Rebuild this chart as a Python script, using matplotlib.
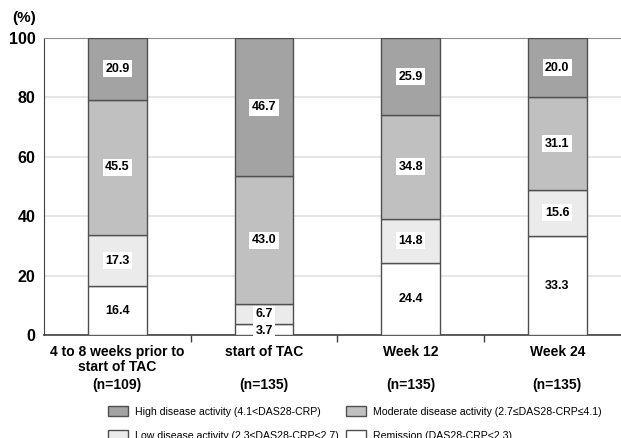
import numpy as np
import matplotlib.pyplot as plt
from matplotlib.patches import Patch

plt.rcParams['font.family'] = ['Liberation Sans', 'DejaVu Sans']

# ------------------------------- DATA ---------------------------------------
categories = ["4 to 8 weeks prior to\nstart of TAC", "start of TAC", "Week 12", "Week 24"]
n_labels = ["(n=109)", "(n=135)", "(n=135)", "(n=135)"]
remission = [16.4, 3.7, 24.4, 33.3]
low = [17.3, 6.7, 14.8, 15.6]
moderate = [45.5, 43.0, 34.8, 31.1]
high = [20.9, 46.7, 25.9, 20.0]

legend_labels = [
    "High disease activity (4.1<DAS28-CRP)",
    "Moderate disease activity (2.7\u2264DAS28-CRP\u22644.1)",
    "Low disease activity (2.3\u2264DAS28-CRP<2.7)",
    "Remission (DAS28-CRP<2.3)",
]
yticks = [0, 20, 40, 60, 80, 100]

# ------------------------------- STYLE --------------------------------------
colors = ["#ffffff", "#ebebeb", "#c0c0c0", "#a3a3a3"]  # remission, low, moderate, high
edge = "#505050"
bar_w = 0.4

fig = plt.figure(figsize=(6.21, 4.38), dpi=100)
ax = fig.add_axes([0.0709, 0.2352, 0.935, 0.678])

x = np.arange(len(categories))
series = [remission, low, moderate, high]
bottom = np.zeros(len(categories))
for vals, col in zip(series, colors):
    vals = np.array(vals)
    ax.bar(x, vals, bar_w, bottom=bottom, color=col, edgecolor=edge,
           linewidth=1.0, zorder=3)
    for xi, b, v in zip(x, bottom, vals):
        yc = b + v / 2
        if v < 5:
            yc = b + v / 2 - 0.6
        ax.text(xi, yc, f"{v:.1f}", ha="center", va="center", fontsize=9,
                fontweight="bold", zorder=5,
                bbox=dict(boxstyle="square,pad=0.2", fc="white", ec="none"))
    bottom = bottom + vals

ax.set_xlim(-0.5, 3.46)
ax.set_ylim(0, 100)
ax.set_yticks(yticks)
ax.set_yticklabels([str(t) for t in yticks], fontsize=11.5, fontweight="bold")
ax.tick_params(axis="y", length=0, pad=6)

ax.set_xticks(x)
ax.set_xticklabels(categories, fontsize=10, fontweight="bold", linespacing=1.15)
ax.set_xticks([0.5, 1.5, 2.5], minor=True)
ax.tick_params(axis="x", which="major", length=0, pad=7)
ax.tick_params(axis="x", which="minor", length=5, width=1.0, color="#404040")

for xi, nl in zip(x, n_labels):
    ax.text(xi, -0.168, nl, transform=ax.get_xaxis_transform(), ha="center",
            va="center", fontsize=10, fontweight="bold")

ax.grid(axis="y", color="#e2e2e2", linewidth=1.2, zorder=0)
ax.spines["right"].set_visible(False)
ax.spines["top"].set_color("#909090")
ax.spines["left"].set_color("#404040")
ax.spines["bottom"].set_color("#404040")
ax.spines["bottom"].set_linewidth(1.2)

fig.text(0.019, 0.958, "(%)", fontsize=11, fontweight="bold", ha="left", va="center")

# legend, column-first order
handles = [Patch(facecolor=c, edgecolor=edge, linewidth=1.0) for c in colors[::-1]]
order = [0, 2, 1, 3]
fig.legend([handles[i] for i in order], [legend_labels[i] for i in order],
           ncol=2, loc="upper left", bbox_to_anchor=(0.165, 0.085),
           frameon=False, fontsize=7.6, handlelength=1.9, handleheight=1.05,
           handletextpad=0.65, columnspacing=0.7, labelspacing=1.3, borderpad=0)

fig.savefig("out.png", dpi=100)
